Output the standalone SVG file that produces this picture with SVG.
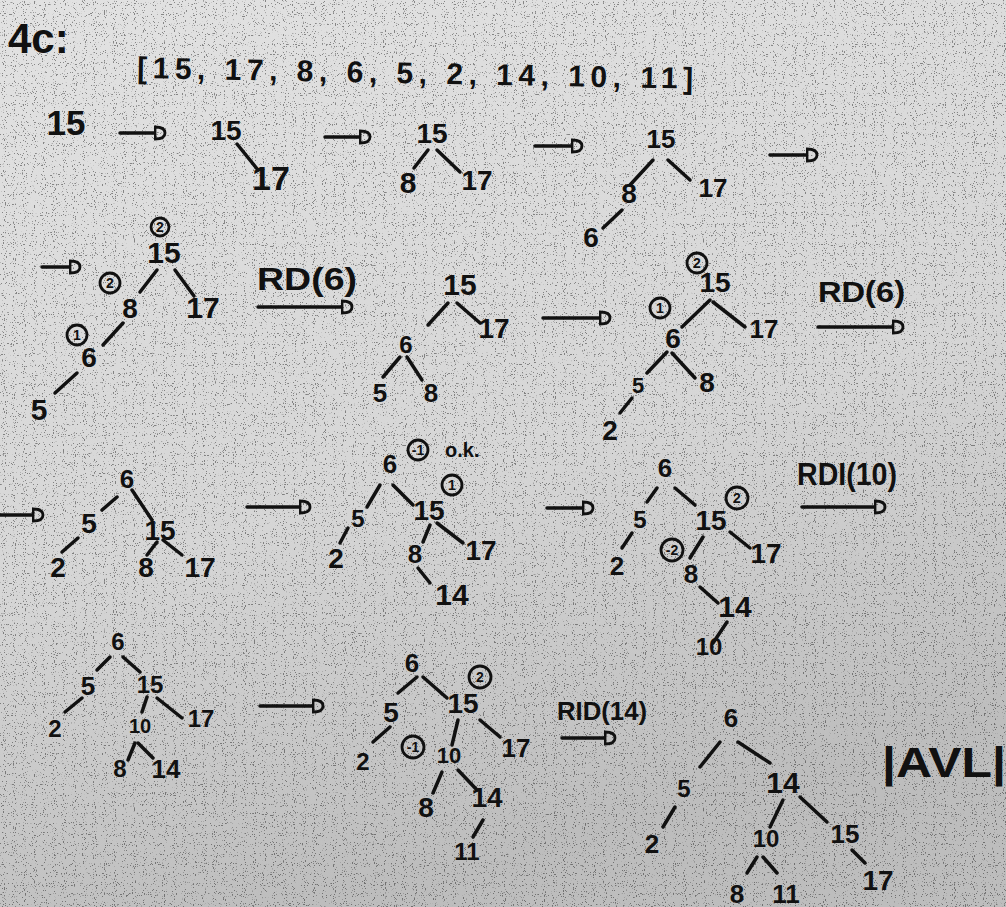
<svg xmlns="http://www.w3.org/2000/svg" width="1006" height="907" viewBox="0 0 1006 907">
<style>
.n{font-family:"Liberation Sans","DejaVu Sans",sans-serif;fill:#111;text-anchor:middle;font-weight:bold}
.t{font-family:"Liberation Sans","DejaVu Sans",sans-serif;fill:#111;font-weight:bold}
.e{stroke:#111;stroke-width:3.5;stroke-linecap:round;fill:none}
.a{stroke:#111;stroke-width:3.5;stroke-linecap:round;fill:none;marker-end:url(#dh)}
.c{fill:none;stroke:#111;stroke-width:2.8}
.bf{font-family:"Liberation Sans","DejaVu Sans",sans-serif;fill:#111;text-anchor:middle;font-size:14px;font-weight:bold}
</style>
<defs>
<linearGradient id="bg" x1="0" y1="0" x2="0.3" y2="1">
<stop offset="0" stop-color="#e2e2e2"/>
<stop offset="0.6" stop-color="#d6d6d6"/>
<stop offset="1" stop-color="#bdbdbd"/>
</linearGradient>
<filter id="spk" x="0" y="0" width="100%" height="100%">
<feTurbulence type="fractalNoise" baseFrequency="0.9" numOctaves="1" seed="3"/>
<feColorMatrix type="matrix" values="0 0 0 0 0  0 0 0 0 0  0 0 0 0 0  -16 0 0 0 6"/>
</filter>
<marker id="dh" viewBox="0 -8 13 16" markerWidth="13" markerHeight="16" refX="0" refY="0" orient="auto" markerUnits="userSpaceOnUse">
<path d="M1,-6 L1,6 Q11,6 11,0 Q11,-6 1,-6 Z" fill="none" stroke="#111" stroke-width="2.8"/>
</marker>
</defs>
<rect width="1006" height="907" fill="url(#bg)"/>
<rect width="1006" height="907" filter="url(#spk)" opacity="0.4"/>

<g id="title">
<text class="t" x="8" y="53" font-size="42" font-weight="normal">4c:</text>
<text class="t" x="137" y="78" font-size="30" textLength="556" lengthAdjust="spacing" transform="rotate(1.1 137 78)">[15, 17, 8, 6, 5, 2, 14, 10, 11]</text>
</g>

<g id="connectors">
<!-- row 1 -->
<line class="a" x1="120" y1="133" x2="154" y2="133"/>
<line class="a" x1="325" y1="137" x2="359" y2="137"/>
<line class="a" x1="535" y1="146" x2="571" y2="146"/>
<line class="a" x1="770" y1="155" x2="806" y2="155"/>
<line class="e" x1="237" y1="144" x2="258" y2="170"/>
<line class="e" x1="428" y1="150" x2="414" y2="168"/>
<line class="e" x1="437" y1="150" x2="460" y2="172"/>
<line class="e" x1="653" y1="160" x2="630" y2="185"/>
<line class="e" x1="668" y1="160" x2="690" y2="180"/>
<line class="e" x1="622" y1="210" x2="603" y2="228"/>
<!-- row 2 -->
<line class="a" x1="42" y1="267" x2="69" y2="267"/>
<line class="e" x1="157" y1="270" x2="140" y2="292"/>
<line class="e" x1="175" y1="270" x2="194" y2="296"/>
<line class="e" x1="123" y1="323" x2="103" y2="345"/>
<line class="e" x1="77" y1="373" x2="55" y2="393"/>
<line class="a" x1="258" y1="307" x2="341" y2="307"/>
<line class="e" x1="448" y1="303" x2="428" y2="325"/>
<line class="e" x1="457" y1="303" x2="480" y2="323"/>
<line class="e" x1="400" y1="357" x2="383" y2="377"/>
<line class="e" x1="407" y1="357" x2="422" y2="380"/>
<line class="a" x1="543" y1="318" x2="599" y2="318"/>
<line class="e" x1="710" y1="300" x2="682" y2="327"/>
<line class="e" x1="713" y1="302" x2="745" y2="327"/>
<line class="e" x1="667" y1="352" x2="647" y2="373"/>
<line class="e" x1="672" y1="353" x2="695" y2="378"/>
<line class="e" x1="632" y1="398" x2="620" y2="413"/>
<line class="a" x1="818" y1="327" x2="892" y2="327"/>
<!-- row 3 -->
<line class="a" x1="0" y1="515" x2="32" y2="515"/>
<line class="e" x1="117" y1="497" x2="102" y2="510"/>
<line class="e" x1="132" y1="490" x2="152" y2="520"/>
<line class="e" x1="78" y1="538" x2="62" y2="552"/>
<line class="e" x1="157" y1="542" x2="147" y2="555"/>
<line class="e" x1="163" y1="540" x2="182" y2="555"/>
<line class="a" x1="247" y1="507" x2="299" y2="507"/>
<line class="e" x1="380" y1="485" x2="367" y2="507"/>
<line class="e" x1="393" y1="485" x2="413" y2="505"/>
<line class="e" x1="348" y1="528" x2="340" y2="543"/>
<line class="e" x1="430" y1="525" x2="423" y2="542"/>
<line class="e" x1="437" y1="523" x2="463" y2="543"/>
<line class="e" x1="418" y1="568" x2="430" y2="583"/>
<line class="a" x1="547" y1="508" x2="582" y2="508"/>
<line class="e" x1="657" y1="488" x2="647" y2="502"/>
<line class="e" x1="675" y1="488" x2="695" y2="505"/>
<line class="e" x1="632" y1="533" x2="622" y2="548"/>
<line class="e" x1="703" y1="537" x2="690" y2="558"/>
<line class="e" x1="730" y1="532" x2="750" y2="548"/>
<line class="e" x1="700" y1="587" x2="718" y2="603"/>
<line class="e" x1="727" y1="622" x2="713" y2="643"/>
<line class="a" x1="802" y1="507" x2="874" y2="507"/>
<!-- row 4 -->
<line class="e" x1="110" y1="657" x2="97" y2="670"/>
<line class="e" x1="123" y1="657" x2="140" y2="672"/>
<line class="e" x1="82" y1="698" x2="65" y2="712"/>
<line class="e" x1="147" y1="697" x2="142" y2="712"/>
<line class="e" x1="157" y1="698" x2="182" y2="718"/>
<line class="e" x1="135" y1="743" x2="128" y2="760"/>
<line class="e" x1="138" y1="743" x2="153" y2="758"/>
<line class="a" x1="260" y1="706" x2="312" y2="706"/>
<line class="e" x1="417" y1="677" x2="398" y2="693"/>
<line class="e" x1="423" y1="677" x2="447" y2="698"/>
<line class="e" x1="480" y1="720" x2="500" y2="737"/>
<line class="e" x1="390" y1="727" x2="373" y2="742"/>
<line class="e" x1="458" y1="720" x2="452" y2="745"/>
<line class="e" x1="442" y1="772" x2="433" y2="793"/>
<line class="e" x1="458" y1="770" x2="477" y2="790"/>
<line class="e" x1="483" y1="820" x2="473" y2="837"/>
<line class="a" x1="562" y1="738" x2="604" y2="738"/>
<line class="e" x1="720" y1="742" x2="700" y2="767"/>
<line class="e" x1="738" y1="742" x2="770" y2="763"/>
<line class="e" x1="675" y1="807" x2="663" y2="827"/>
<line class="e" x1="783" y1="800" x2="770" y2="827"/>
<line class="e" x1="800" y1="797" x2="827" y2="822"/>
<line class="e" x1="757" y1="857" x2="747" y2="873"/>
<line class="e" x1="763" y1="857" x2="777" y2="873"/>
<line class="e" x1="852" y1="850" x2="865" y2="863"/>
</g>

<g id="labels">
<text class="t" x="257" y="290" font-size="32" textLength="100" lengthAdjust="spacingAndGlyphs">RD(6)</text>
<text class="t" x="818" y="302" font-size="30" textLength="87" lengthAdjust="spacingAndGlyphs">RD(6)</text>
<text class="t" x="797" y="485" font-size="32" textLength="100" lengthAdjust="spacingAndGlyphs">RDI(10)</text>
<text class="t" x="557" y="720" font-size="26" textLength="90" lengthAdjust="spacingAndGlyphs">RID(14)</text>
<text class="t" x="445" y="457" font-size="20">o.k.</text>
<text class="t" x="882" y="777" font-size="42" textLength="124" lengthAdjust="spacingAndGlyphs" font-weight="normal">|AVL|</text>
</g>

<g id="balance">
<circle class="c" cx="160" cy="227" r="9"/><text class="bf" x="160" y="232">2</text>
<circle class="c" cx="110" cy="283" r="10"/><text class="bf" x="110" y="288">2</text>
<circle class="c" cx="77" cy="335" r="10"/><text class="bf" x="77" y="340">1</text>
<circle class="c" cx="697" cy="263" r="10"/><text class="bf" x="697" y="268">2</text>
<circle class="c" cx="660" cy="308" r="10"/><text class="bf" x="660" y="313">1</text>
<circle class="c" cx="418" cy="450" r="10"/><text class="bf" x="418" y="455">-1</text>
<circle class="c" cx="452" cy="485" r="10"/><text class="bf" x="452" y="490">1</text>
<circle class="c" cx="737" cy="498" r="11"/><text class="bf" x="737" y="503">2</text>
<circle class="c" cx="672" cy="550" r="11"/><text class="bf" x="672" y="555">-2</text>
<circle class="c" cx="480" cy="677" r="11"/><text class="bf" x="480" y="682">2</text>
<circle class="c" cx="413" cy="747" r="11"/><text class="bf" x="413" y="752">-1</text>
</g>

<!-- step 1 -->
<g id="s1-15"><text class="n" x="66" y="135" font-size="35">15</text></g>
<!-- step 2 -->
<g id="s2-15"><text class="n" x="226" y="140" font-size="28">15</text></g>
<g id="s2-17"><text class="n" x="271" y="190" font-size="34">17</text></g>
<!-- step 3 -->
<g id="s3-15"><text class="n" x="432" y="143" font-size="28">15</text></g>
<g id="s3-8"><text class="n" x="408" y="193" font-size="30">8</text></g>
<g id="s3-17"><text class="n" x="477" y="190" font-size="28">17</text></g>
<!-- step 4 -->
<g id="s4-15"><text class="n" x="661" y="148" font-size="26">15</text></g>
<g id="s4-8"><text class="n" x="629" y="203" font-size="28">8</text></g>
<g id="s4-17"><text class="n" x="713" y="197" font-size="26">17</text></g>
<g id="s4-6"><text class="n" x="591" y="247" font-size="28">6</text></g>
<!-- step 5 -->
<g id="s5-15"><text class="n" x="164" y="263" font-size="30">15</text></g>
<g id="s5-17"><text class="n" x="203" y="318" font-size="30">17</text></g>
<g id="s5-8"><text class="n" x="130" y="318" font-size="28">8</text></g>
<g id="s5-6"><text class="n" x="89" y="367" font-size="28">6</text></g>
<g id="s5-5"><text class="n" x="39" y="420" font-size="30">5</text></g>
<!-- step 6 -->
<g id="s6-15"><text class="n" x="460" y="295" font-size="30">15</text></g>
<g id="s6-17"><text class="n" x="494" y="338" font-size="28">17</text></g>
<g id="s6-6"><text class="n" x="406" y="353" font-size="24">6</text></g>
<g id="s6-5"><text class="n" x="380" y="402" font-size="26">5</text></g>
<g id="s6-8"><text class="n" x="431" y="402" font-size="26">8</text></g>
<!-- step 7 -->
<g id="s7-15"><text class="n" x="715" y="292" font-size="28">15</text></g>
<g id="s7-17"><text class="n" x="764" y="338" font-size="26">17</text></g>
<g id="s7-6"><text class="n" x="673" y="348" font-size="28">6</text></g>
<g id="s7-5"><text class="n" x="638" y="393" font-size="22">5</text></g>
<g id="s7-8"><text class="n" x="707" y="392" font-size="28">8</text></g>
<g id="s7-2"><text class="n" x="610" y="440" font-size="28">2</text></g>
<!-- step 8 -->
<g id="s8-6"><text class="n" x="127" y="488" font-size="26">6</text></g>
<g id="s8-5"><text class="n" x="89" y="533" font-size="28">5</text></g>
<g id="s8-15"><text class="n" x="160" y="540" font-size="28">15</text></g>
<g id="s8-2"><text class="n" x="58" y="577" font-size="28">2</text></g>
<g id="s8-8"><text class="n" x="146" y="577" font-size="28">8</text></g>
<g id="s8-17"><text class="n" x="200" y="577" font-size="28">17</text></g>
<!-- step 9 -->
<g id="s9-6"><text class="n" x="390" y="473" font-size="26">6</text></g>
<g id="s9-5"><text class="n" x="358" y="527" font-size="24">5</text></g>
<g id="s9-15"><text class="n" x="429" y="520" font-size="28">15</text></g>
<g id="s9-2"><text class="n" x="336" y="568" font-size="28">2</text></g>
<g id="s9-8"><text class="n" x="415" y="563" font-size="26">8</text></g>
<g id="s9-17"><text class="n" x="481" y="560" font-size="28">17</text></g>
<g id="s9-14"><text class="n" x="452" y="605" font-size="30">14</text></g>
<!-- step 10 -->
<g id="s10-6"><text class="n" x="665" y="477" font-size="26">6</text></g>
<g id="s10-5"><text class="n" x="640" y="528" font-size="24">5</text></g>
<g id="s10-15"><text class="n" x="711" y="530" font-size="28">15</text></g>
<g id="s10-2"><text class="n" x="617" y="575" font-size="26">2</text></g>
<g id="s10-17"><text class="n" x="766" y="563" font-size="28">17</text></g>
<g id="s10-8"><text class="n" x="691" y="583" font-size="26">8</text></g>
<g id="s10-14"><text class="n" x="735" y="617" font-size="30">14</text></g>
<g id="s10-10"><text class="n" x="709" y="655" font-size="24">10</text></g>
<!-- step 11 -->
<g id="s11-6"><text class="n" x="118" y="650" font-size="24">6</text></g>
<g id="s11-5"><text class="n" x="88" y="695" font-size="26">5</text></g>
<g id="s11-15"><text class="n" x="150" y="693" font-size="24">15</text></g>
<g id="s11-2"><text class="n" x="55" y="737" font-size="24">2</text></g>
<g id="s11-17"><text class="n" x="201" y="727" font-size="24">17</text></g>
<g id="s11-10"><text class="n" x="140" y="733" font-size="20">10</text></g>
<g id="s11-8"><text class="n" x="120" y="777" font-size="24">8</text></g>
<g id="s11-14"><text class="n" x="166" y="778" font-size="26">14</text></g>
<!-- step 12 -->
<g id="s12-6"><text class="n" x="412" y="672" font-size="26">6</text></g>
<g id="s12-5"><text class="n" x="391" y="722" font-size="28">5</text></g>
<g id="s12-15"><text class="n" x="463" y="713" font-size="28">15</text></g>
<g id="s12-17"><text class="n" x="516" y="757" font-size="26">17</text></g>
<g id="s12-2"><text class="n" x="363" y="770" font-size="24">2</text></g>
<g id="s12-10"><text class="n" x="449" y="763" font-size="22">10</text></g>
<g id="s12-8"><text class="n" x="426" y="817" font-size="28">8</text></g>
<g id="s12-14"><text class="n" x="487" y="807" font-size="28">14</text></g>
<g id="s12-11"><text class="n" x="467" y="860" font-size="24">11</text></g>
<!-- step 13 -->
<g id="s13-6"><text class="n" x="731" y="727" font-size="26">6</text></g>
<g id="s13-5"><text class="n" x="684" y="797" font-size="24">5</text></g>
<g id="s13-14"><text class="n" x="783" y="793" font-size="30">14</text></g>
<g id="s13-2"><text class="n" x="652" y="853" font-size="26">2</text></g>
<g id="s13-10"><text class="n" x="766" y="847" font-size="24">10</text></g>
<g id="s13-15"><text class="n" x="845" y="843" font-size="26">15</text></g>
<g id="s13-8"><text class="n" x="737" y="903" font-size="26">8</text></g>
<g id="s13-11"><text class="n" x="786" y="903" font-size="26">11</text></g>
<g id="s13-17"><text class="n" x="878" y="890" font-size="28">17</text></g>
</svg>
